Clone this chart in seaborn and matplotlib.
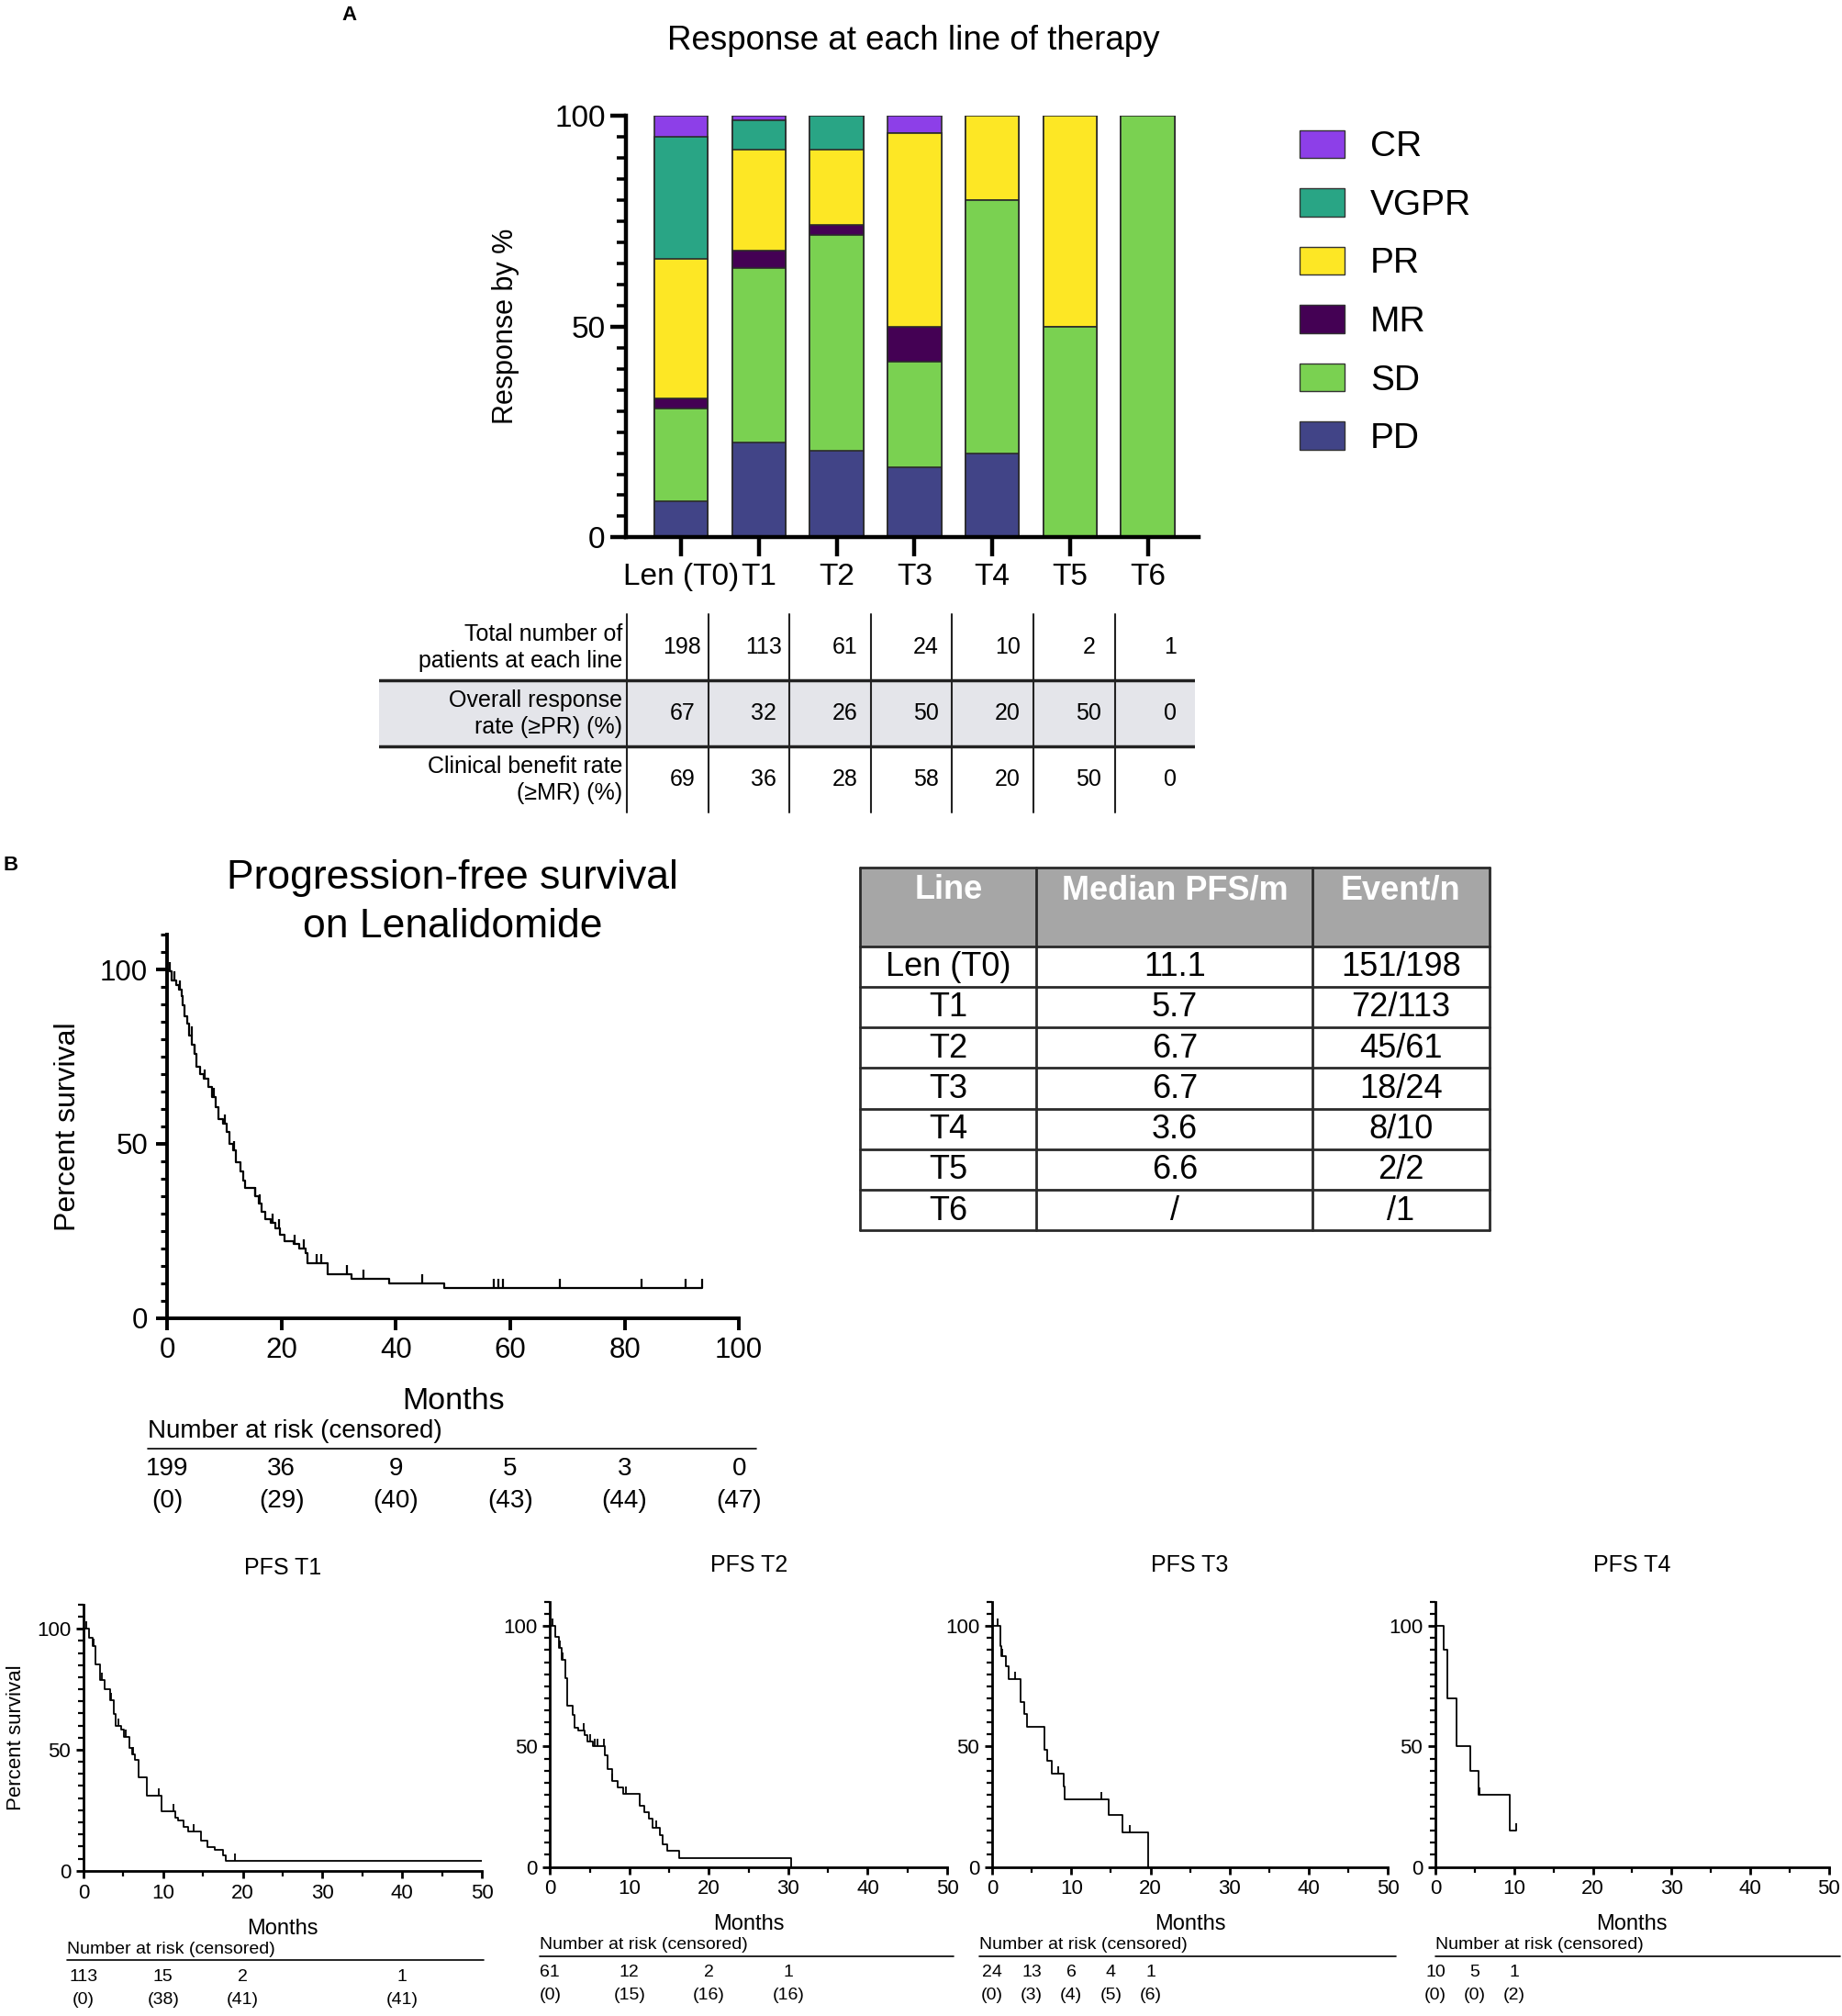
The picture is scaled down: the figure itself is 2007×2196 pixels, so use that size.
import numpy as np
import matplotlib
matplotlib.use('Agg')
import matplotlib.pyplot as plt
from matplotlib.patches import Patch, Rectangle
from matplotlib.ticker import MultipleLocator, NullLocator
import seaborn as sns

# ---------------- Panel A: response per line ----------------
lines = ['Len (T0)', 'T1', 'T2', 'T3', 'T4', 'T5', 'T6']
resp_order = ['PD', 'SD', 'MR', 'PR', 'VGPR', 'CR']  # bottom -> top
pd_pct = [8.5, 22.6, 20.5, 16.7, 20, 0, 0]
sd_pct = [22.0, 41.2, 51.3, 25.0, 60, 50, 100]
mr_pct = [2.5, 4.2, 2.2, 8.3, 0, 0, 0]
pr_pct = [33.0, 24.0, 18.0, 45.8, 20, 50, 0]
vgpr_pct = [29.0, 7.0, 8.0, 0, 0, 0, 0]
cr_pct = [5.0, 1.0, 0, 4.2, 0, 0, 0]

n_total = [198, 113, 61, 24, 10, 2, 1]
orr = [67, 32, 26, 50, 20, 50, 0]
cbr = [69, 36, 28, 58, 20, 50, 0]
row_labels = ['Total number of\npatients at each line',
              'Overall response\nrate (≥PR) (%)',
              'Clinical benefit rate\n(≥MR) (%)']

colors = {'CR': '#8d3fe8', 'VGPR': '#29a585', 'PR': '#fde725',
          'MR': '#440154', 'SD': '#7ad151', 'PD': '#414487'}

# ---------------- Panel B: median PFS table ----------------
pfs_line = ['Len (T0)', 'T1', 'T2', 'T3', 'T4', 'T5', 'T6']
pfs_median = ['11.1', '5.7', '6.7', '6.7', '3.6', '6.6', '/']
pfs_events = ['151/198', '72/113', '45/61', '18/24', '8/10', '2/2', '/1']

# ---------------- KM step points (time in months, % survival) ----------------
len_time = [0, 0.4, 0.8, 1.6, 2.1, 2.6, 2.8, 3.0, 3.5, 3.8, 4.4, 4.8, 5.2, 5.7, 6.4,
            7.2, 7.9, 8.5, 9.0, 9.8, 10.4, 10.9, 11.6, 12.1, 12.8, 13.3, 13.7, 15.4,
            16.0, 16.6, 17.1, 18.1, 18.9, 19.7, 20.5, 22.1, 23.1, 24.2, 24.5, 28.1,
            32.2, 38.8, 48.4]
len_surv = [100, 99.6, 96.9, 95.6, 94.2, 92.5, 89.8, 86.7, 84.5, 81.0, 78.3, 75.7, 72.1,
            69.9, 68.6, 66.4, 63.3, 60.6, 57.1, 55.8, 53.5, 50.0, 48.2, 44.7, 42.0, 39.4,
            37.2, 35.0, 32.7, 30.5, 28.3, 27.4, 25.7, 23.9, 22.1, 21.2, 19.9, 18.6, 15.6,
            12.6, 11.2, 9.9, 8.5]
len_cens = [0.5, 1.3, 2.2, 4.3, 4.8, 6.6, 8.2, 10.1, 11.7, 15.4, 16.2, 18.4, 19.6, 22.3,
            23.9, 26.1, 26.9, 31.4, 34.3, 44.6, 57.2, 57.9, 58.7, 68.7, 82.9, 90.7, 93.5]
len_end = 93.5
len_risk_t = [0, 20, 40, 60, 80, 100]
len_risk_n = [199, 36, 9, 5, 3, 0]
len_risk_c = [0, 29, 40, 43, 44, 47]

t1_time = [0, 0.7, 1.1, 1.5, 2.1, 2.7, 3.3, 3.8, 4.0, 4.7, 5.1, 5.7, 6.1, 6.4, 6.9,
           8.0, 9.8, 11.5, 11.9, 12.5, 13.1, 14.7, 15.5, 16.5, 17.5, 17.8]
t1_surv = [100, 96.2, 93.0, 85.3, 78.9, 75.0, 70.6, 64.8, 59.7, 58.4, 55.2, 50.8, 48.2,
           45.7, 38.6, 30.9, 24.6, 22.0, 20.7, 18.2, 16.2, 12.4, 9.8, 8.6, 6.3, 4.1]
t1_cens = [0.3, 1.3, 2.3, 3.4, 4.4, 5.3, 6.2, 9.4, 11.3, 13.8, 19.0]
t1_end = 50
t1_risk_t = [0, 10, 20, 40]
t1_risk_n = [113, 15, 2, 1]
t1_risk_c = [0, 38, 41, 41]

t2_time = [0, 0.7, 1.1, 1.5, 1.9, 2.2, 2.8, 3.1, 3.6, 4.4, 4.7, 5.4, 6.9, 7.3, 7.8,
           8.5, 9.2, 11.3, 11.9, 12.4, 12.9, 13.8, 14.2, 14.8, 16.3, 30.3]
t2_surv = [100, 95.5, 91.0, 86.0, 78.3, 66.8, 63.0, 57.9, 56.6, 54.7, 52.1, 50.2, 46.4,
           40.6, 35.5, 32.9, 30.4, 25.3, 22.7, 20.2, 16.3, 13.2, 9.3, 6.8, 3.6, 0]
t2_cens = [0.3, 1.2, 1.6, 4.2, 5.0, 5.6, 6.0, 6.8, 7.8, 9.5, 13.4]
t2_end = 30.3
t2_risk_t = [0, 10, 20, 30]
t2_risk_n = [61, 12, 2, 1]
t2_risk_c = [0, 15, 16, 16]

t3_time = [0, 1.0, 1.2, 1.7, 2.1, 3.6, 4.1, 4.4, 6.6, 7.0, 7.5, 9.0, 9.2, 14.7, 16.5, 19.7]
t3_surv = [100, 91.7, 87.5, 83.3, 78.1, 68.5, 63.4, 58.2, 48.6, 44.1, 38.9, 33.2, 28.0,
           21.6, 14.4, 0]
t3_cens = [0.7, 1.3, 2.9, 8.3, 13.8, 17.4]
t3_end = 19.7
t3_risk_t = [0, 5, 10, 15, 20]
t3_risk_n = [24, 13, 6, 4, 1]
t3_risk_c = [0, 3, 4, 5, 6]

t4_time = [0, 1.0, 1.5, 2.7, 4.4, 5.5, 9.4]
t4_surv = [100, 90, 70, 50, 40, 30, 15]
t4_cens = [5.6, 10.2]
t4_end = 10.2
t4_risk_t = [0, 5, 10]
t4_risk_n = [10, 5, 1]
t4_risk_c = [0, 0, 2]

# ---------------- style ----------------
sns.set_style('ticks')
plt.rcParams['font.family'] = ['Liberation Sans', 'DejaVu Sans']
plt.rcParams['axes.edgecolor'] = 'black'
plt.rcParams['xtick.color'] = 'black'
plt.rcParams['ytick.color'] = 'black'
plt.rcParams['text.color'] = 'black'
plt.rcParams['axes.labelcolor'] = 'black'

fig = plt.figure(figsize=(20.08, 21.96), dpi=100)
W, H = 1434, 1568  # layout grid of the reference


def box(x0, y0, x1, y1):
    return [x0 / W, 1 - y1 / H, (x1 - x0) / W, (y1 - y0) / H]


def style_axes(ax, lw, fs, major_len, minor_len, pad=4):
    sns.despine(ax=ax)
    for side in ['left', 'bottom']:
        ax.spines[side].set_linewidth(lw)
    ax.tick_params(which='major', direction='out', length=major_len, width=lw,
                   labelsize=fs, pad=pad)
    ax.tick_params(which='minor', direction='out', length=minor_len, width=lw * 0.8)


def km_curve(ax, t, s, cens, t_end, lw, tick_s):
    tt = np.array(list(t) + [t_end])
    ss = np.array(list(s) + [s[-1]])
    sns.lineplot(x=tt, y=ss, drawstyle='steps-post', estimator=None, sort=False,
                 color='black', linewidth=lw, ax=ax)
    idx = np.searchsorted(np.array(t), np.array(cens), side='right') - 1
    sns.scatterplot(x=cens, y=np.array(s)[idx], marker=[(0, 0), (0, 1)], s=tick_s,
                    color='black', edgecolor='black', linewidth=lw, ax=ax)


def risk_rows(ax, times, n_risk, n_cens, x0, x1, fs, ys):
    tr = ax.get_xaxis_transform()
    ax.text(x0, ys[0], 'Number at risk (censored)', transform=tr, ha='left',
            va='center', fontsize=fs)
    ax.plot([x0, x1], [ys[1], ys[1]], transform=tr, color='black', lw=1.2, clip_on=False)
    for t, n, c in zip(times, n_risk, n_cens):
        ax.text(t, ys[2], str(n), transform=tr, ha='center', va='center', fontsize=fs)
        ax.text(t, ys[3], f'({c})', transform=tr, ha='center', va='center', fontsize=fs)


# ---------------- Panel A bars ----------------
ax = fig.add_axes(box(487, 90, 933, 418))
stack = np.cumsum([pd_pct, sd_pct, mr_pct, pr_pct, vgpr_pct, cr_pct], axis=0)
for tops, name in zip(stack[::-1], resp_order[::-1]):
    sns.barplot(x=lines, y=tops, color=colors[name], saturation=1, width=0.69,
                edgecolor='#2b2b2b', linewidth=1.2, errorbar=None, ax=ax)
ax.set_xlim(-0.71, 6.66)
ax.set_ylim(0, 100)
ax.yaxis.set_major_locator(MultipleLocator(50))
ax.yaxis.set_minor_locator(MultipleLocator(5))
style_axes(ax, 3.2, 24, 12, 7)
ax.tick_params(axis='x', length=15, pad=5)
ax.set_ylabel('Response by %', fontsize=22)
ax.yaxis.set_label_coords(-0.185, 0.5)
ax.set_xlabel('')
fig.text(711 / W, 1 - 32 / H, 'Response at each line of therapy', ha='center',
         va='center', fontsize=26.5)

handles = [Patch(facecolor=colors[n], edgecolor='#333333', label=n)
           for n in ['CR', 'VGPR', 'PR', 'MR', 'SD', 'PD']]
fig.legend(handles=handles, loc='upper left', bbox_to_anchor=(1000 / W, 1 - 90 / H),
           frameon=False, fontsize=28, handlelength=1.26, handleheight=0.83,
           labelspacing=0.69, handletextpad=0.72, borderaxespad=0)

# table under the bars
axt = fig.add_axes(box(295, 478, 930, 632))
axt.set_xlim(-3.73, 6.31)
axt.set_ylim(3, 0)
axt.axis('off')
axt.axhspan(1, 2, color='#e4e5ea', zorder=0)
for yy in [1, 2]:
    axt.axhline(yy, color='#222222', lw=2.5)
for i in range(len(lines)):
    axt.plot([i - 0.68, i - 0.68], [0, 3], color='#222222', lw=1.5, clip_on=False)
for r, (lab, vals) in enumerate(zip(row_labels, [n_total, orr, cbr])):
    axt.text(-0.74, r + 0.5, lab, ha='right', va='center', fontsize=18, linespacing=1.25)
    for i, v in enumerate(vals):
        axt.text(i, r + 0.5, str(v), ha='center', va='center', fontsize=18)

# ---------------- Panel B main KM ----------------
axk = fig.add_axes(box(130, 727, 575, 1025))
km_curve(axk, len_time, len_surv, len_cens, len_end, 1.6, 200)
risk_rows(axk, len_risk_t, len_risk_n, len_risk_c, -3.4, 103, 20,
          (-0.295, -0.342, -0.393, -0.477))
axk.set_xlim(0, 100)
axk.set_ylim(0, 110)
axk.xaxis.set_major_locator(MultipleLocator(20))
axk.xaxis.set_minor_locator(NullLocator())
axk.yaxis.set_major_locator(MultipleLocator(50))
axk.yaxis.set_minor_locator(MultipleLocator(5))
style_axes(axk, 2.8, 22.5, 9, 5, pad=6)
axk.set_xlabel('Months', fontsize=24.5)
axk.xaxis.set_label_coords(0.5, -0.18)
axk.set_ylabel('Percent survival', fontsize=23)
axk.yaxis.set_label_coords(-0.15, 0.5)
fig.text(352 / W, 1 - 683 / H, 'Progression-free survival', ha='center', va='center',
         fontsize=32)
fig.text(352 / W, 1 - 721 / H, 'on Lenalidomide', ha='center', va='center', fontsize=32)

# PFS table
axp = fig.add_axes(box(669, 675, 1159, 957))
head_h = 1.93
n_rows = len(pfs_line)
axp.set_xlim(0, 1)
axp.set_ylim(head_h + n_rows, 0)
axp.axis('off')
axp.add_patch(Rectangle((0, 0), 1, head_h, facecolor='#a6a6a6', edgecolor='none'))
for xx in [0, 0.2796, 0.7184, 1]:
    axp.plot([xx, xx], [0, head_h + n_rows], color='#2a2a2a', lw=2, clip_on=False)
for yy in [0] + [head_h + i for i in range(n_rows + 1)]:
    axp.plot([0, 1], [yy, yy], color='#2a2a2a', lw=2, clip_on=False)
col_x = [0.141, 0.5, 0.859]
for xx, head in zip(col_x, ['Line', 'Median PFS/m', 'Event/n']):
    axp.text(xx, 0.55, head, ha='center', va='center', fontsize=26, color='white',
             fontweight='bold')
for i, row in enumerate(zip(pfs_line, pfs_median, pfs_events)):
    for xx, val in zip(col_x, row):
        axp.text(xx, head_h + i + 0.52, val, ha='center', va='center', fontsize=26)

# ---------------- small KM panels ----------------
small = [
    ('PFS T1', box(65, 1248, 375, 1455), t1_time, t1_surv, t1_cens, t1_end,
     t1_risk_t, t1_risk_n, t1_risk_c, -2.1, 50.2),
    ('PFS T2', box(428, 1246, 737, 1452), t2_time, t2_surv, t2_cens, t2_end,
     t2_risk_t, t2_risk_n, t2_risk_c, -1.3, 50.8),
    ('PFS T3', box(772, 1246, 1080, 1452), t3_time, t3_surv, t3_cens, t3_end,
     t3_risk_t, t3_risk_n, t3_risk_c, -1.6, 51.0),
    ('PFS T4', box(1117, 1246, 1423, 1452), t4_time, t4_surv, t4_cens, t4_end,
     t4_risk_t, t4_risk_n, t4_risk_c, 0.0, 51.5),
]
for k, (title, rect, t, s, c, te, rt, rn, rc, x0, x1) in enumerate(small):
    a = fig.add_axes(rect)
    km_curve(a, t, s, c, te, 1.3, 140)
    risk_rows(a, rt, rn, rc, x0, x1, 14, (-0.295, -0.337, -0.398, -0.485))
    a.set_xlim(0, 50)
    a.set_ylim(0, 110)
    a.xaxis.set_major_locator(MultipleLocator(10))
    a.xaxis.set_minor_locator(MultipleLocator(5))
    a.yaxis.set_major_locator(MultipleLocator(50))
    a.yaxis.set_minor_locator(MultipleLocator(5))
    style_axes(a, 2.0, 16, 6, 4)
    a.set_title(title, fontsize=18, pad=24)
    a.set_xlabel('Months', fontsize=17)
    a.xaxis.set_label_coords(0.5, -0.18)
    if k == 0:
        a.set_ylabel('Percent survival', fontsize=16)
        a.yaxis.set_label_coords(-0.145, 0.5)
    else:
        a.set_ylabel('')

fig.text(272 / W, 1 - 12 / H, 'A', ha='center', va='center', fontsize=16,
         fontweight='bold')
fig.text(8 / W, 1 - 673 / H, 'B', ha='center', va='center', fontsize=16,
         fontweight='bold')

fig.savefig('out.png', dpi=100)
